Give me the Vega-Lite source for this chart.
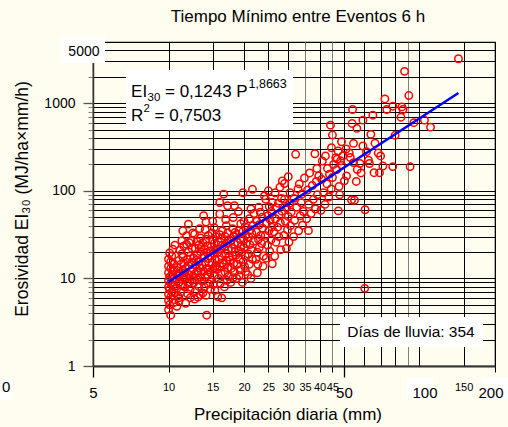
{
"$schema": "https://vega.github.io/schema/vega-lite/v6.json",
"width": 402, "height": 324,
"autosize": {"type": "none"},
"padding": {"left": 93, "top": 42, "right": 13, "bottom": 61},
"background": "#FFFDF0",
"data": {"values": [{}]},
"config": {
 "view": {"stroke": "#000", "strokeWidth": 1.2},
 "font": "Liberation Sans",
 "axis": {"labelFont": "Liberation Sans", "titleFont": "Liberation Sans", "labelColor": "#000", "titleColor": "#000", "titleFontWeight": "normal"},
 "text": {"font": "Liberation Sans", "color": "#000"}
},
"title": {"text": "Tiempo Mínimo entre Eventos 6 h", "font": "Liberation Sans", "fontSize": 17, "fontWeight": "normal", "color": "#000", "anchor": "middle", "frame": "group", "dx": 4, "offset": -3, "baseline": "alphabetic"},
"layer": [
 {
  "data": {"values": [
{"p":10.0,"e":4.4},{"p":10.1,"e":5.0},{"p":10.0,"e":5.6},{"p":10.2,"e":6.1},{"p":10.0,"e":6.6},{"p":10.3,"e":7.0},{"p":10.1,"e":7.5},{"p":10.0,"e":8.0},{"p":10.4,"e":8.4},{"p":10.2,"e":8.9},{"p":10.0,"e":9.4},{"p":10.5,"e":9.9},{"p":10.1,"e":10.4},{"p":10.3,"e":11.0},{"p":10.0,"e":11.6},{"p":10.4,"e":12.2},{"p":10.2,"e":13.0},{"p":10.0,"e":13.8},{"p":10.5,"e":14.6},{"p":10.2,"e":15.5},{"p":10.0,"e":16.6},{"p":10.3,"e":18.0},{"p":10.1,"e":19.5},{"p":10.4,"e":21.5},{"p":10.6,"e":24.0},{"p":10.2,"e":3.8},{"p":10.5,"e":5.3},{"p":10.6,"e":6.8},{"p":10.6,"e":8.2},{"p":10.5,"e":12.6},
{"p":10.8,"e":4.8},{"p":11.0,"e":5.5},{"p":10.9,"e":6.3},{"p":11.2,"e":7.0},{"p":10.8,"e":7.7},{"p":11.4,"e":8.3},{"p":11.0,"e":9.0},{"p":11.3,"e":9.8},{"p":10.9,"e":10.6},{"p":11.1,"e":11.5},{"p":11.4,"e":12.4},{"p":10.8,"e":13.3},{"p":11.2,"e":14.5},{"p":11.0,"e":16.0},{"p":11.4,"e":17.5},{"p":11.3,"e":19.0},{"p":11.1,"e":21.0},{"p":11.5,"e":23.5},{"p":11.3,"e":27.0},{"p":11.4,"e":35.0},{"p":11.0,"e":6.0},{"p":11.5,"e":10.5},{"p":11.2,"e":8.6},{"p":10.9,"e":11.2},{"p":11.5,"e":15.0},
{"p":11.7,"e":5.2},{"p":11.9,"e":6.7},{"p":12.2,"e":7.5},{"p":11.6,"e":8.0},{"p":12.0,"e":8.8},{"p":12.4,"e":9.5},{"p":11.8,"e":10.2},{"p":12.1,"e":11.0},{"p":12.3,"e":12.0},{"p":11.7,"e":13.0},{"p":12.0,"e":14.0},{"p":12.4,"e":15.2},{"p":11.9,"e":16.5},{"p":12.2,"e":18.0},{"p":12.0,"e":20.0},{"p":12.4,"e":22.0},{"p":11.8,"e":24.5},{"p":12.3,"e":27.0},{"p":11.8,"e":30.8},{"p":12.0,"e":41.7},{"p":12.5,"e":33.0},{"p":12.2,"e":6.0},{"p":11.6,"e":11.6},{"p":12.5,"e":10.6},{"p":12.1,"e":25.5},
{"p":12.7,"e":5.8},{"p":13.1,"e":6.1},{"p":13.4,"e":6.5},{"p":12.8,"e":7.2},{"p":13.2,"e":8.1},{"p":12.6,"e":8.9},{"p":13.0,"e":9.6},{"p":13.4,"e":10.3},{"p":12.7,"e":11.2},{"p":13.1,"e":12.2},{"p":13.3,"e":13.2},{"p":12.9,"e":14.3},{"p":13.2,"e":15.6},{"p":12.6,"e":17.0},{"p":13.0,"e":18.5},{"p":13.4,"e":20.2},{"p":12.8,"e":22.0},{"p":13.2,"e":24.0},{"p":13.0,"e":26.5},{"p":13.4,"e":29.0},{"p":12.7,"e":32.0},{"p":13.3,"e":37.0},{"p":13.1,"e":11.6},{"p":12.9,"e":16.2},{"p":13.5,"e":22.8},
{"p":13.7,"e":6.8},{"p":14.1,"e":6.4},{"p":13.9,"e":8.0},{"p":14.4,"e":8.7},{"p":13.6,"e":9.3},{"p":14.0,"e":10.3},{"p":14.3,"e":11.1},{"p":13.8,"e":12.0},{"p":14.2,"e":13.0},{"p":13.6,"e":14.2},{"p":14.0,"e":15.4},{"p":14.4,"e":16.8},{"p":13.8,"e":18.2},{"p":14.2,"e":19.8},{"p":13.9,"e":21.5},{"p":14.3,"e":23.5},{"p":13.7,"e":25.5},{"p":14.1,"e":28.0},{"p":14.4,"e":31.0},{"p":13.8,"e":51.9},{"p":14.0,"e":36.0},{"p":14.2,"e":3.8},{"p":14.4,"e":12.5},{"p":13.9,"e":17.4},{"p":14.1,"e":44.0},
{"p":14.7,"e":7.5},{"p":15.1,"e":8.5},{"p":15.3,"e":7.3},{"p":14.8,"e":9.6},{"p":15.2,"e":10.8},{"p":14.6,"e":11.8},{"p":15.0,"e":12.8},{"p":15.4,"e":14.0},{"p":14.9,"e":15.2},{"p":15.3,"e":16.5},{"p":14.7,"e":18.0},{"p":15.1,"e":19.5},{"p":15.4,"e":21.2},{"p":14.8,"e":23.0},{"p":15.2,"e":25.0},{"p":15.0,"e":27.5},{"p":15.4,"e":30.0},{"p":14.9,"e":33.0},{"p":15.2,"e":38.0},{"p":15.0,"e":45.0},{"p":15.3,"e":13.3},{"p":14.6,"e":20.6},
{"p":15.7,"e":6.2},{"p":16.1,"e":8.8},{"p":16.3,"e":6.0},{"p":15.8,"e":10.0},{"p":16.2,"e":11.3},{"p":15.6,"e":12.6},{"p":16.0,"e":13.8},{"p":16.4,"e":15.0},{"p":15.9,"e":16.5},{"p":16.3,"e":18.0},{"p":15.7,"e":19.8},{"p":16.1,"e":21.7},{"p":16.4,"e":23.8},{"p":15.8,"e":26.0},{"p":16.2,"e":28.5},{"p":16.0,"e":31.5},{"p":16.4,"e":35.0},{"p":16.0,"e":54.4},{"p":16.0,"e":73.6},{"p":16.6,"e":91.7},
{"p":16.7,"e":8.0},{"p":17.1,"e":9.5},{"p":17.3,"e":10.5},{"p":16.8,"e":11.8},{"p":17.2,"e":13.2},{"p":16.6,"e":14.5},{"p":17.0,"e":16.0},{"p":17.4,"e":17.5},{"p":16.9,"e":19.2},{"p":17.3,"e":21.0},{"p":16.7,"e":23.0},{"p":17.1,"e":25.2},{"p":17.4,"e":27.6},{"p":16.8,"e":30.2},{"p":17.2,"e":33.0},{"p":17.0,"e":40.0},{"p":17.2,"e":67.5},{"p":16.9,"e":47.0},
{"p":17.7,"e":9.0},{"p":18.1,"e":10.2},{"p":18.3,"e":11.8},{"p":17.8,"e":13.0},{"p":18.2,"e":14.8},{"p":17.6,"e":16.2},{"p":18.0,"e":18.0},{"p":18.4,"e":20.0},{"p":17.9,"e":22.0},{"p":18.3,"e":24.5},{"p":17.7,"e":27.0},{"p":18.1,"e":30.0},{"p":18.4,"e":33.5},{"p":18.0,"e":37.0},{"p":18.1,"e":49.6},{"p":18.3,"e":67.5},
{"p":18.7,"e":10.0},{"p":19.1,"e":10.8},{"p":19.3,"e":12.5},{"p":18.8,"e":14.5},{"p":19.2,"e":16.5},{"p":18.6,"e":18.5},{"p":19.0,"e":20.5},{"p":19.4,"e":22.8},{"p":18.9,"e":25.5},{"p":19.3,"e":28.5},{"p":18.7,"e":31.5},{"p":19.1,"e":35.0},{"p":19.4,"e":42.0},{"p":19.0,"e":58.0},
{"p":19.7,"e":9.0},{"p":20.1,"e":13.7},{"p":20.3,"e":12.0},{"p":19.8,"e":15.5},{"p":20.2,"e":18.0},{"p":19.6,"e":20.0},{"p":20.0,"e":22.5},{"p":20.4,"e":25.0},{"p":19.9,"e":28.0},{"p":20.3,"e":31.0},{"p":19.8,"e":34.5},{"p":20.2,"e":39.0},{"p":19.8,"e":95.0},{"p":20.0,"e":45.0},
{"p":20.7,"e":11.0},{"p":21.3,"e":10.0},{"p":21.0,"e":14.5},{"p":21.6,"e":16.5},{"p":20.8,"e":19.0},{"p":21.4,"e":21.0},{"p":21.1,"e":24.3},{"p":21.8,"e":26.5},{"p":20.9,"e":29.5},{"p":21.5,"e":32.5},{"p":21.2,"e":36.0},{"p":21.7,"e":40.0},{"p":21.6,"e":104},{"p":21.0,"e":48.0},{"p":21.9,"e":55.0},{"p":21.3,"e":62.0},
{"p":22.6,"e":11.6},{"p":22.6,"e":19.9},{"p":23.8,"e":13.8},{"p":22.3,"e":16.5},{"p":23.0,"e":22.5},{"p":23.5,"e":25.0},{"p":22.8,"e":28.0},{"p":23.3,"e":31.0},{"p":22.4,"e":34.0},{"p":23.7,"e":37.5},{"p":23.0,"e":41.0},{"p":22.5,"e":45.0},{"p":23.6,"e":50.0},{"p":23.2,"e":57.0},{"p":22.9,"e":65.0},{"p":24.1,"e":87.6},{"p":23.9,"e":18.0},{"p":22.7,"e":14.5},
{"p":25.9,"e":14.7},{"p":24.5,"e":17.0},{"p":25.3,"e":20.5},{"p":24.8,"e":24.0},{"p":25.6,"e":27.5},{"p":24.3,"e":31.0},{"p":25.1,"e":35.0},{"p":25.8,"e":38.5},{"p":24.6,"e":42.5},{"p":25.4,"e":47.0},{"p":24.9,"e":52.0},{"p":25.7,"e":58.0},{"p":25.2,"e":66.0},{"p":25.9,"e":73.6},{"p":24.4,"e":80.0},{"p":25.0,"e":100},
{"p":26.8,"e":25.9},{"p":28.0,"e":21.3},{"p":26.5,"e":18.0},{"p":27.5,"e":30.0},{"p":26.3,"e":34.0},{"p":27.2,"e":38.5},{"p":27.9,"e":43.0},{"p":26.7,"e":48.0},{"p":27.6,"e":53.0},{"p":28.3,"e":58.5},{"p":26.9,"e":64.0},{"p":27.4,"e":72.0},{"p":28.2,"e":82.0},{"p":26.6,"e":95.0},{"p":27.8,"e":110},{"p":28.4,"e":130},
{"p":29.0,"e":121},{"p":29.5,"e":22.0},{"p":30.2,"e":26.0},{"p":28.8,"e":31.0},{"p":29.8,"e":36.0},{"p":30.6,"e":40.0},{"p":29.2,"e":45.0},{"p":30.0,"e":51.0},{"p":30.8,"e":57.0},{"p":29.5,"e":64.0},{"p":30.3,"e":72.0},{"p":29.0,"e":80.0},{"p":30.5,"e":95.0},{"p":30.0,"e":145},
{"p":32.1,"e":261},{"p":31.5,"e":30.0},{"p":33.0,"e":35.0},{"p":34.2,"e":40.5},{"p":31.8,"e":46.0},{"p":33.5,"e":52.0},{"p":34.5,"e":58.0},{"p":32.4,"e":65.0},{"p":33.8,"e":73.0},{"p":31.6,"e":82.0},{"p":34.0,"e":92.0},{"p":32.8,"e":105},{"p":33.2,"e":120},{"p":34.8,"e":140},
{"p":36.1,"e":35.1},{"p":38.3,"e":265},{"p":39.7,"e":148},{"p":35.5,"e":48.0},{"p":37.0,"e":55.0},{"p":38.5,"e":62.0},{"p":36.2,"e":70.0},{"p":37.8,"e":80.0},{"p":39.2,"e":90.0},{"p":35.8,"e":102},{"p":37.4,"e":115},{"p":38.8,"e":128},{"p":36.5,"e":160},{"p":39.0,"e":180},
{"p":41.0,"e":219},{"p":44.2,"e":562},{"p":45.0,"e":433},{"p":44.6,"e":310},{"p":43.8,"e":155},{"p":45.0,"e":142},{"p":40.5,"e":60.0},{"p":42.0,"e":70.0},{"p":43.5,"e":85.0},{"p":41.5,"e":95.0},{"p":44.5,"e":105},{"p":42.8,"e":120},{"p":40.8,"e":135},{"p":43.0,"e":180},{"p":45.5,"e":200},{"p":42.2,"e":250},
{"p":47.4,"e":285},{"p":46.4,"e":239},{"p":48.9,"e":363},{"p":47.8,"e":112},{"p":48.1,"e":90},{"p":51.2,"e":148},{"p":47.0,"e":230},{"p":48.5,"e":220},{"p":49.5,"e":250},{"p":46.8,"e":175},{"p":50.2,"e":130},{"p":47.5,"e":59},{"p":49.0,"e":195},{"p":51.0,"e":300},
{"p":54.1,"e":848},{"p":53.9,"e":588},{"p":56.3,"e":516},{"p":59.5,"e":641},{"p":54.6,"e":348},{"p":59.5,"e":325},{"p":54.6,"e":210},{"p":57.9,"e":205},{"p":56.0,"e":128},{"p":53.6,"e":78.4},{"p":55.1,"e":78},{"p":60.7,"e":60.8},{"p":53.0,"e":240},{"p":56.5,"e":175},{"p":58.5,"e":160},{"p":52.5,"e":270},
{"p":65.2,"e":730},{"p":64.0,"e":441},{"p":62.6,"e":224},{"p":68.5,"e":270},{"p":63.2,"e":205},{"p":65.9,"e":161},{"p":69.3,"e":161},{"p":71.5,"e":192},{"p":72.8,"e":1119},{"p":74.1,"e":848},{"p":60.5,"e":7.7},{"p":61.5,"e":280},{"p":66.5,"e":350},{"p":70.0,"e":250},
{"p":78.3,"e":925},{"p":85.1,"e":908},{"p":86.0,"e":848},{"p":84.4,"e":693},{"p":78.3,"e":189},{"p":91.8,"e":189},{"p":87.2,"e":2310},{"p":90.7,"e":1223},{"p":80.0,"e":430},{"p":95.0,"e":600},
{"p":104.7,"e":641},{"p":110.7,"e":533},{"p":143,"e":3220}
  ]},
  "mark": {"type": "point", "shape": "circle", "filled": false, "color": "#FF0000", "size": 55, "strokeWidth": 1.5, "opacity": 1},
  "encoding": {
   "x": {"field": "p", "type": "quantitative", "scale": {"type": "log", "domain": [5, 200], "nice": false},
    "axis": {"orient": "bottom", "offset": 0, "title": "Precipitación diaria (mm)", "titleFontSize": 17, "titleX": 194.5, "titleY": 53, "titleBaseline": "alphabetic", "titleAlign": "center", "titleAngle": 0,
     "values": [10,15,20,25,30,35,40,45,50,60,70,80,90,100,150,200],
     "grid": true, "gridColor": {"condition": {"test": "datum.value==35||datum.value==45||datum.value==90", "value": "#808080"}, "value": "#000"}, "gridWidth": 1, "gridOpacity": 1,
     "domain": true, "domainColor": "#333", "domainWidth": 2,
     "ticks": true, "tickSize": 6, "tickColor": "#000", "tickWidth": 1, "tickOpacity": {"condition": {"test": "datum.value>=60&&datum.value<200", "value": 0}, "value": 1},
     "format": "d", "labelExpr": "(datum.value<=45||datum.value==150)?datum.label:''", "labelFontSize": 11, "labelPadding": 9, "labelOverlap": false, "labelFlush": false, "zindex": 0}},
   "y": {"field": "e", "type": "quantitative", "scale": {"type": "log", "domain": [1, 5000], "nice": false},
    "axis": {"orient": "left", "offset": 0, "title": "Erosividad EI₃₀ (MJ/ha×mm/h)", "titleFontSize": 17.5, "titleX": -66, "titleY": 156.5, "titleAngle": -90, "titleBaseline": "alphabetic", "titleAlign": "center",
     "values": [1,2,3,4,5,6,7,8,9,10,20,30,40,50,60,70,80,90,100,200,300,400,500,600,700,800,900,1000,2000,3000,4000],
     "grid": true, "gridColor": "#000", "gridWidth": 1, "gridOpacity": 1,
     "domain": true, "domainColor": "#333", "domainWidth": 1.5,
     "ticks": true, "tickSize": 5, "tickColor": "#808080", "labels": false, "zindex": 0}}
  }
 },
 {
  "data": {"values": [{"p": 10, "e": 9.14}, {"p": 143, "e": 1310}]},
  "mark": {"type": "line", "color": "#0000FF", "strokeWidth": 2.5},
  "encoding": {
   "x": {"field": "p", "type": "quantitative", "scale": {"type": "log", "domain": [5, 200], "nice": false},
    "axis": {"orient": "bottom", "offset": 0, "title": null, "values": [5, 50, 100, 200], "grid": false, "domain": false,
     "ticks": true, "tickSize": 11, "tickColor": "#000", "tickWidth": 1.3, "tickOpacity": {"condition": {"test": "datum.value>=100", "value": 0}, "value": 1},
     "format": "d", "labelFontSize": 15, "labelPadding": 8, "labelFlush": false, "labelOverlap": false,
     "labelOffset": {"condition": [{"test": "datum.value==100", "value": 5}, {"test": "datum.value==200", "value": -4.5}], "value": 0}, "zindex": 1}},
   "y": {"field": "e", "type": "quantitative", "scale": {"type": "log", "domain": [1, 5000], "nice": false},
    "axis": {"orient": "left", "offset": 0, "title": null, "values": [1, 10, 100, 1000, 5000], "grid": false, "domain": false,
     "ticks": true, "tickSize": 10, "tickColor": "#555", "tickWidth": 1.3, "tickOpacity": {"condition": {"test": "datum.value==5000", "value": 0}, "value": 1},
     "format": "d", "labelFontSize": 14, "labelPadding": {"condition": {"test": "datum.value==5000", "value": -16}, "value": 8},
     "labelOffset": {"condition": {"test": "datum.value==5000", "value": 9.5}, "value": 0}, "labelFlush": false, "labelOverlap": false, "zindex": 1}}
  }
 },
 {"mark": {"type": "rect", "fill": "#FFFFFF"}, "encoding": {"x": {"datum": 6.77, "type": "quantitative", "axis": null}, "x2": {"datum": 31.34}, "y": {"datum": 494.8, "type": "quantitative", "axis": null}, "y2": {"datum": 2395}}},
 {"mark": {"type": "rect", "fill": "#FFFFFF"}, "encoding": {"x": {"datum": 48.2, "type": "quantitative", "axis": null}, "x2": {"datum": 179.2}, "y": {"datum": 1.648, "type": "quantitative", "axis": null}, "y2": {"datum": 3.626}}},
 {"mark": {"type": "rect", "fill": "#FFFFFF"}, "encoding": {"x": {"datum": 3.727, "type": "quantitative", "axis": null}, "x2": {"datum": 5.58}, "y": {"datum": 2879, "type": "quantitative", "axis": null}, "y2": {"datum": 5854}}},
 {"mark": {"type": "rect", "fill": "#FFFFFF"}, "encoding": {"x": {"datum": 89.2, "type": "quantitative", "axis": null}, "x2": {"datum": 113.2}, "y": {"datum": 0.409, "type": "quantitative", "axis": null}, "y2": {"datum": 0.7294}}},
 {"mark": {"type": "rect", "fill": "#FFFFFF"}, "encoding": {"x": {"datum": 177.5, "type": "quantitative", "axis": null}, "x2": {"datum": 229.4}, "y": {"datum": 0.409, "type": "quantitative", "axis": null}, "y2": {"datum": 0.7294}}},
 {"mark": {"type": "rect", "fill": "#FFFFFF"}, "encoding": {"x": {"datum": 2.034, "type": "quantitative", "axis": null}, "x2": {"datum": 2.377}, "y": {"datum": 0.409, "type": "quantitative", "axis": null}, "y2": {"datum": 0.7294}}},
 {"mark": {"type": "text", "fontSize": 15, "align": "right", "baseline": "alphabetic"}, "encoding": {"x": {"datum": 2.34, "type": "quantitative", "axis": null}, "y": {"datum": 0.5, "type": "quantitative", "axis": null}, "text": {"value": "0"}}},
 {"mark": {"type": "text", "fontSize": 15.5, "align": "center", "baseline": "alphabetic"}, "encoding": {"x": {"datum": 92.5, "type": "quantitative", "axis": null}, "y": {"datum": 2.127, "type": "quantitative", "axis": null}, "text": {"value": "Días de lluvia: 354"}}},
 {"mark": {"type": "text", "fontSize": 17, "align": "left", "baseline": "alphabetic"}, "encoding": {"x": {"datum": 7.09, "type": "quantitative", "axis": null}, "y": {"datum": 1178, "type": "quantitative", "axis": null}, "text": {"value": "EI"}}},
 {"mark": {"type": "text", "fontSize": 11.5, "align": "left", "baseline": "alphabetic"}, "encoding": {"x": {"datum": 8.25, "type": "quantitative", "axis": null}, "y": {"datum": 1046.6, "type": "quantitative", "axis": null}, "text": {"value": "30"}}},
 {"mark": {"type": "text", "fontSize": 17, "align": "left", "baseline": "alphabetic"}, "encoding": {"x": {"datum": 9.68, "type": "quantitative", "axis": null}, "y": {"datum": 1178, "type": "quantitative", "axis": null}, "text": {"value": "= 0,1243 P"}}},
 {"mark": {"type": "text", "fontSize": 12.5, "align": "left", "baseline": "alphabetic"}, "encoding": {"x": {"datum": 20.83, "type": "quantitative", "axis": null}, "y": {"datum": 1473, "type": "quantitative", "axis": null}, "text": {"value": "1,8663"}}},
 {"mark": {"type": "text", "fontSize": 17, "align": "left", "baseline": "alphabetic"}, "encoding": {"x": {"datum": 7.09, "type": "quantitative", "axis": null}, "y": {"datum": 626.9, "type": "quantitative", "axis": null}, "text": {"value": "R"}}},
 {"mark": {"type": "text", "fontSize": 11.5, "align": "left", "baseline": "alphabetic"}, "encoding": {"x": {"datum": 7.95, "type": "quantitative", "axis": null}, "y": {"datum": 794, "type": "quantitative", "axis": null}, "text": {"value": "2"}}},
 {"mark": {"type": "text", "fontSize": 17, "align": "left", "baseline": "alphabetic"}, "encoding": {"x": {"datum": 8.80, "type": "quantitative", "axis": null}, "y": {"datum": 626.9, "type": "quantitative", "axis": null}, "text": {"value": "= 0,7503"}}}
],
"resolve": {"axis": {"x": "independent", "y": "independent"}}
}
